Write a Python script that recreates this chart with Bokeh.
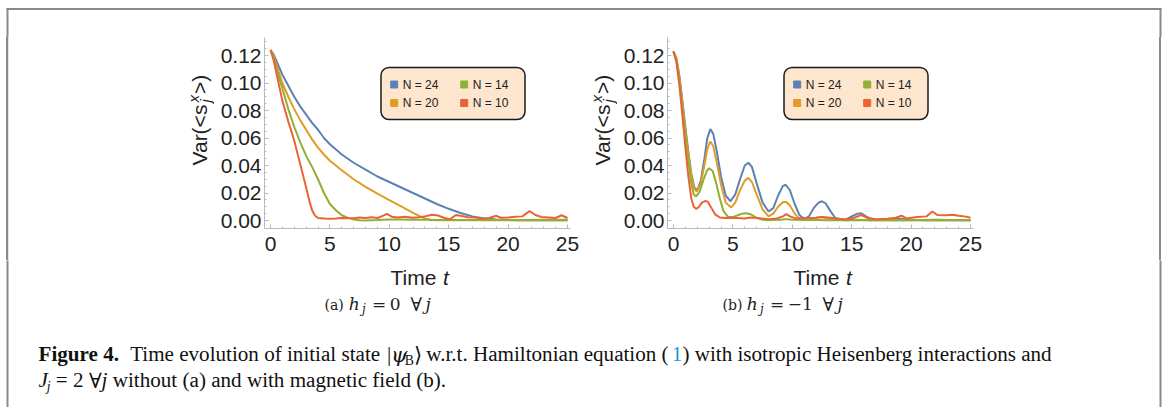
import math
from bokeh.plotting import figure
from bokeh.models import Range1d, FixedTicker, NumeralTickFormatter, Label, BoxAnnotation, Plot, Div
from bokeh.layouts import column, row
from bokeh.embed import file_html
from bokeh.resources import INLINE

# ---------------- data ----------------
series_names = ["N = 24", "N = 20", "N = 14", "N = 10"]
series_colors = ["#5E81B5", "#E19C24", "#8FB032", "#EB6235"]
x_ticks = [0, 5, 10, 15, 20, 25]
y_ticks = [0.0, 0.02, 0.04, 0.06, 0.08, 0.10, 0.12]

# panel (a): h_j = 0
a24_t = [0, 0.25, 0.5, 1, 1.5, 2, 2.5, 3, 3.5, 4, 4.5, 5, 6, 7, 8, 9, 10, 11, 12, 13, 14, 15, 16, 17, 18, 19, 20, 21, 22, 23, 24, 25]
a24_v = [0.124, 0.121, 0.116, 0.106, 0.098, 0.090, 0.083, 0.077, 0.071, 0.066, 0.060, 0.0555, 0.048, 0.042, 0.037, 0.032, 0.028, 0.024, 0.020, 0.016, 0.012, 0.0085, 0.0055, 0.003, 0.0015, 0.0008, 0.0004, 0.0002, 0.0001, 0.0001, 0.0001, 0.0001]
a20_t = [0, 0.25, 0.5, 1, 1.5, 2, 2.5, 3, 3.5, 4, 4.5, 5, 6, 7, 8, 9, 10, 11, 12, 12.5, 13, 13.5, 14, 15, 17, 19, 21, 23, 25]
a20_v = [0.124, 0.120, 0.113, 0.100, 0.090, 0.081, 0.073, 0.066, 0.059, 0.053, 0.048, 0.0435, 0.0365, 0.030, 0.0245, 0.0195, 0.0148, 0.0102, 0.0055, 0.0033, 0.0015, 0.0006, 0.0002, 0.0002, 0.0002, 0.0002, 0.0002, 0.0002, 0.0002]
a14_t = [0, 0.25, 0.5, 1, 1.5, 2, 2.5, 3, 3.5, 4, 4.5, 5, 5.5, 6, 6.5, 7, 7.5, 8, 9, 10, 11, 12, 13, 14, 15, 17, 19, 21, 23, 25]
a14_v = [0.124, 0.119, 0.110, 0.096, 0.081, 0.068, 0.057, 0.047, 0.039, 0.030, 0.020, 0.012, 0.0075, 0.0038, 0.002, 0.0008, 0.0002, 0.0, 0.0003, 0.0008, 0.0007, 0.0006, 0.0005, 0.0004, 0.0003, 0.0003, 0.0004, 0.0004, 0.0005, 0.0005]
a10_t = [0, 0.25, 0.5, 1, 1.5, 2, 2.5, 3, 3.25, 3.5, 3.75, 4, 4.5, 5, 5.5, 6, 6.5, 7, 7.5, 8, 8.5, 9, 9.5, 9.8, 10.2, 10.7, 11.3, 12, 12.5, 13, 13.6, 14.1, 14.6, 15.1, 15.6, 16.1, 16.6, 17.2, 17.8, 18.4, 19, 19.4, 20, 20.6, 21.2, 21.8, 22.3, 22.8, 23.4, 24, 24.5, 25]
a10_v = [0.124, 0.117, 0.107, 0.087, 0.072, 0.058, 0.041, 0.024, 0.015, 0.0075, 0.0035, 0.0018, 0.0015, 0.0013, 0.0014, 0.0019, 0.0016, 0.0017, 0.0022, 0.0018, 0.0024, 0.0018, 0.0035, 0.0048, 0.0028, 0.0022, 0.0028, 0.0020, 0.0024, 0.0030, 0.0042, 0.0036, 0.0020, 0.0008, 0.0040, 0.0032, 0.0024, 0.0022, 0.0012, 0.0018, 0.0034, 0.0020, 0.0022, 0.0028, 0.0030, 0.0068, 0.0040, 0.0026, 0.0022, 0.0018, 0.0038, 0.0018]

# panel (b): h_j = -1
b24_t = [0, 0.25, 0.5, 0.75, 1.0, 1.25, 1.5, 1.75, 2.0, 2.3, 2.6, 2.85, 3.1, 3.35, 3.65, 4.0, 4.4, 4.8, 5.2, 5.6, 6.0, 6.3, 6.6, 7.0, 7.5, 8.0, 8.4, 8.8, 9.2, 9.45, 9.8, 10.2, 10.6, 11.0, 11.4, 11.8, 12.2, 12.5, 12.8, 13.2, 13.6, 14.0, 14.5, 15.0, 15.5, 15.8, 16.2, 16.7, 17.2, 18, 19, 20, 21, 22, 23, 24, 25]
b24_v = [0.123, 0.118, 0.105, 0.087, 0.068, 0.050, 0.034, 0.024, 0.022, 0.029, 0.045, 0.060, 0.0665, 0.063, 0.050, 0.032, 0.018, 0.014, 0.019, 0.030, 0.040, 0.042, 0.039, 0.027, 0.013, 0.0065, 0.009, 0.018, 0.025, 0.026, 0.022, 0.012, 0.004, 0.0012, 0.003, 0.009, 0.013, 0.014, 0.0125, 0.007, 0.002, 0.0005, 0.0007, 0.003, 0.005, 0.0052, 0.003, 0.0008, 0.0003, 0.0005, 0.0012, 0.0005, 0.0002, 0.0004, 0.0002, 0.0002, 0.0002]
b20_t = [0, 0.25, 0.5, 0.75, 1.0, 1.25, 1.5, 1.75, 1.95, 2.3, 2.6, 2.85, 3.1, 3.35, 3.65, 4.0, 4.4, 4.85, 5.2, 5.6, 6.0, 6.3, 6.6, 7.0, 7.5, 8.0, 8.4, 8.8, 9.2, 9.45, 9.8, 10.2, 10.6, 11.0, 11.5, 12.0, 12.5, 13.0, 13.5, 14.5, 15.5, 16.5, 18, 20, 22, 25]
b20_v = [0.123, 0.117, 0.104, 0.085, 0.066, 0.048, 0.033, 0.023, 0.021, 0.027, 0.040, 0.052, 0.0575, 0.054, 0.042, 0.026, 0.013, 0.0095, 0.013, 0.022, 0.029, 0.031, 0.028, 0.019, 0.008, 0.003, 0.005, 0.010, 0.0132, 0.0136, 0.011, 0.005, 0.0012, 0.0005, 0.001, 0.002, 0.0025, 0.0015, 0.0005, 0.0002, 0.0006, 0.0002, 0.0002, 0.0002, 0.0003, 0.0002]
b14_t = [0, 0.25, 0.5, 0.75, 1.0, 1.25, 1.5, 1.7, 1.9, 2.2, 2.5, 2.8, 3.0, 3.3, 3.6, 3.9, 4.2, 4.6, 5.0, 5.4, 5.8, 6.1, 6.5, 7.0, 7.5, 8.0, 9.0, 9.5, 10.0, 11, 12, 13, 15, 17, 20, 22, 25]
b14_v = [0.123, 0.116, 0.102, 0.082, 0.062, 0.043, 0.027, 0.019, 0.0175, 0.021, 0.029, 0.036, 0.038, 0.036, 0.027, 0.016, 0.007, 0.0025, 0.0025, 0.0038, 0.005, 0.0053, 0.0045, 0.002, 0.0005, 0.0003, 0.0005, 0.001, 0.0006, 0.0003, 0.0004, 0.0002, 0.0003, 0.0002, 0.0002, 0.0006, 0.0002]
b10_t = [0, 0.25, 0.5, 0.75, 1.0, 1.25, 1.5, 1.7, 1.9, 2.1, 2.4, 2.7, 2.9, 3.2, 3.5, 3.9, 4.4, 5, 6, 6.5, 7, 8, 8.7, 9.2, 9.5, 9.8, 10.3, 11, 12, 12.5, 13, 14, 14.5, 15.2, 15.8, 16.3, 17, 18, 18.7, 19.2, 19.6, 20.5, 21.3, 21.8, 22.2, 23, 23.5, 24, 24.5, 25]
b10_v = [0.123, 0.115, 0.098, 0.076, 0.053, 0.032, 0.016, 0.010, 0.0085, 0.0095, 0.013, 0.0143, 0.0135, 0.009, 0.0045, 0.0022, 0.0018, 0.002, 0.0015, 0.0022, 0.0018, 0.001, 0.0015, 0.003, 0.0046, 0.003, 0.0015, 0.0018, 0.002, 0.0025, 0.0022, 0.0012, 0.0008, 0.002, 0.004, 0.002, 0.0009, 0.0012, 0.002, 0.0035, 0.0015, 0.0025, 0.003, 0.0065, 0.004, 0.0038, 0.0042, 0.0035, 0.003, 0.002]

panel_a = [(a24_t, a24_v), (a20_t, a20_v), (a14_t, a14_v), (a10_t, a10_v)]
panel_b = [(b24_t, b24_v), (b20_t, b20_v), (b14_t, b14_v), (b10_t, b10_v)]

# ---------------- layout constants (page pixels) ----------------
W, H = 1163, 407
ROW_TOP, ROW_BOT = 37, 260           # middle row (plots) spans these page rows
ROW_H = ROW_BOT - ROW_TOP
SX, SY = 11.88, 1375.0               # px per unit t, px per unit Var
FRAME_W, FRAME_H = 306, 191
X_LO, X_HI = -6 / SX, 300 / SX
Y_LO, Y_HI = -8 / SY, 183 / SY
AXIS_GRAY = "#b9b9b9"
TXT = "#222222"
BORDER = "#8a8a8a"
HAS_FRAME_ALIGN = "frame_align" in Plot.properties()

SANS = {' ': 278, 'V': 667, 'a': 556, 'r': 333, '(': 333, ')': 333, '<': 584, '>': 584, 's': 500,
        'T': 611, 'i': 222, 'm': 833, 'e': 556, 't': 278, 'j': 222, 'x': 500}
SERIF = {' ': 250, '!': 333, '(': 333, ')': 333, ',': 250, '-': 333, '.': 250, '/': 278, ':': 278, '=': 564, '|': 200,
         'A': 722, 'B': 667, 'C': 667, 'D': 722, 'E': 611, 'F': 556, 'G': 722, 'H': 722, 'I': 333, 'J': 389, 'K': 722,
         'L': 611, 'M': 889, 'N': 722, 'O': 722, 'P': 556, 'Q': 722, 'R': 667, 'S': 556, 'T': 611, 'U': 722, 'V': 722,
         'W': 944, 'X': 722, 'Y': 722, 'Z': 611, 'a': 444, 'b': 500, 'c': 444, 'd': 500, 'e': 444, 'f': 333, 'g': 500,
         'h': 500, 'i': 278, 'j': 278, 'k': 500, 'l': 278, 'm': 778, 'n': 500, 'o': 500, 'p': 500, 'q': 500, 'r': 333,
         's': 389, 't': 278, 'u': 500, 'v': 500, 'w': 722, 'x': 500, 'y': 500, 'z': 444, '\u2200': 600, '\u27e9': 330,
         '\u03c8': 650, '\u2212': 564}
for _d in "0123456789":
    SERIF[_d] = 500
BOLD = dict(SERIF, F=611, u=556, r=444)


def twidth(txt, table, size):
    return sum(table.get(c, 500) for c in txt) * size / 1000.0


def no_align(p):
    if HAS_FRAME_ALIGN:
        p.frame_align = False


def make_panel(width, border_left, series):
    p = figure(width=width, height=ROW_H, output_backend="svg", toolbar_location=None,
               x_range=Range1d(X_LO, X_HI), y_range=Range1d(Y_LO, Y_HI),
               min_border_left=border_left, min_border_right=width - border_left - FRAME_W,
               min_border_top=0, min_border_bottom=ROW_H - FRAME_H)
    no_align(p)
    p.outline_line_color = None
    p.grid.visible = False
    for ax in (p.xaxis[0], p.yaxis[0]):
        ax.axis_line_color = AXIS_GRAY
        ax.major_tick_line_color = AXIS_GRAY
        ax.minor_tick_line_color = AXIS_GRAY
        ax.major_tick_in = 4
        ax.major_tick_out = 0
        ax.minor_tick_in = 2
        ax.minor_tick_out = 0
        ax.major_label_text_font = "Liberation Sans"
        ax.major_label_text_font_size = "21px"
        ax.major_label_text_color = TXT
    p.xaxis.ticker = FixedTicker(ticks=x_ticks, minor_ticks=list(range(0, 26)))
    p.yaxis.ticker = FixedTicker(ticks=y_ticks, minor_ticks=[k * 0.005 for k in range(27)])
    p.yaxis.formatter = NumeralTickFormatter(format="0.00")
    p.xaxis.major_label_standoff = 8
    p.yaxis.major_label_standoff = 3
    for (t, v), c in zip(series, series_colors):
        p.line(t, v, line_color=c, line_width=2)
    # legend (drawn inside the frame; position from the legend's pixel layout)
    L, R, T, B = 110.5, 254.5, 67, 119
    p.add_layout(BoxAnnotation(left=L / SX, right=R / SX, top=(220 - T) / SY, bottom=(220 - B) / SY,
                               fill_color="#FDE5CE", fill_alpha=1.0, line_color="#1a1a1a", line_alpha=1.0,
                               line_width=1.5, border_radius=8, level="underlay"))
    for slot, si in enumerate([0, 2, 1, 3]):  # N=24, N=14 / N=20, N=10
        col, rw = slot % 2, slot // 2
        cx = 123.7 + 70 * col
        cy = 84 + 18.5 * rw
        p.scatter([cx / SX], [(220 - cy) / SY], marker="square", size=7,
                  fill_color=series_colors[si], line_color=series_colors[si])
        p.add_layout(Label(x=(cx + 8.5) / SX, y=(220 - cy) / SY, text=series_names[si],
                           text_font="Liberation Sans", text_font_size="12px", text_color=TXT,
                           text_align="left", text_baseline="middle"))
    return p


def deco(x0, y0, w, h, in_row=False):
    y_bot = y0 + h
    kw = {}
    if in_row and not HAS_FRAME_ALIGN:
        # frames get aligned with the panels: keep the same bottom border
        y_bot = y0 + FRAME_H
        kw = dict(min_border_bottom=h - FRAME_H)
    d = figure(width=w, height=h, output_backend="svg", toolbar_location=None,
               x_range=Range1d(x0, x0 + w), y_range=Range1d(y_bot, y0),
               x_axis_location=None, y_axis_location=None, min_border=0, **kw)
    no_align(d)
    d.outline_line_color = None
    d.grid.visible = False
    # page frame lines (left, right, top)
    for l, r, t, b in ((6, 8, 7.5, H), (1159, 1161, 7.5, H), (6, 1161, 7.5, 9.5)):
        d.add_layout(BoxAnnotation(left=l, right=r, top=t, bottom=b, fill_color=BORDER, fill_alpha=1,
                                   line_color=None))
    return d


def strip(w, color):
    # plain vertical strip of the page frame (html block, not a plot)
    return Div(text=f'<div style="width:{w}px;height:{ROW_H}px;background:{color};"></div>',
               width=w, height=ROW_H, margin=0)


def lab(fig, px, py, text, size, font="Liberation Sans", style="normal", color=TXT, angle=0.0):
    # (px, py): start of the text baseline in page pixels; text is anchored at its middle
    off = 0.34 * size
    if angle:
        px -= off
    else:
        py -= off
    fig.add_layout(Label(x=px, y=py, text=text, text_font=font, text_font_size=f"{size:.1f}px",
                         text_font_style=style, text_color=color, text_align="left",
                         text_baseline="middle", angle=angle))


# middle row: [gap][line][left deco][panel a][mid deco][panel b][right deco][line][gap]
fa = make_panel(366, 50, panel_a)      # page x 214..580, frame 264..570
fb = make_panel(371, 50, panel_b)      # page x 617..988, frame 667..973
top = deco(0, 0, W, ROW_TOP)
left = deco(8, ROW_TOP, 206, ROW_H, True)
mid = deco(580, ROW_TOP, 37, ROW_H, True)
right = deco(988, ROW_TOP, 171, ROW_H, True)
bottom = deco(0, ROW_BOT, W, H - ROW_BOT)

# y axis labels  Var(<s_j^x>)
for fig, dx in ((left, 0), (mid, 403)):
    bx, by = 206 + dx, 165
    lab(fig, bx, by, "Var(<s", 21, angle=math.pi / 2)
    by2 = by - twidth("Var(<s", SANS, 21) - 0.5
    lab(fig, bx + 4, by2, "j", 15, style="italic", angle=math.pi / 2)
    lab(fig, bx - 8, by2, "x", 15, style="italic", angle=math.pi / 2)
    by3 = by2 - twidth("x", SANS, 15) - 1
    lab(fig, bx, by3, ">)", 21, angle=math.pi / 2)

# x axis labels  Time t
for dx in (0, 403):
    tx = 390 + dx
    lab(bottom, tx, 284, "Time", 21)
    lab(bottom, tx + twidth("Time ", SANS, 21), 284, "t", 21, style="italic")

# sub-captions
SUB = 309.5
MF = "DejaVu Serif"
lab(bottom, 324, SUB, "(a)", 14, font=MF)
lab(bottom, 348.3, SUB, "h", 17, font=MF, style="italic")
lab(bottom, 361.5, SUB + 3.5, "j", 12, font=MF, style="italic")
lab(bottom, 371.5, SUB, "=", 17, font=MF)
lab(bottom, 389.3, SUB, "0", 17, font=MF)
lab(bottom, 410, SUB, "\u2200", 19, font=MF)
lab(bottom, 425, SUB, "j", 17, font=MF, style="italic")

lab(bottom, 722, SUB, "(b)", 14, font=MF)
lab(bottom, 746.3, SUB, "h", 17, font=MF, style="italic")
lab(bottom, 759.5, SUB + 3.5, "j", 12, font=MF, style="italic")
lab(bottom, 769.5, SUB, "=", 17, font=MF)
lab(bottom, 787.3, SUB, "\u22121", 17, font=MF)
lab(bottom, 822, SUB, "\u2200", 19, font=MF)
lab(bottom, 837, SUB, "j", 17, font=MF, style="italic")

# figure caption
CAP = 21.15


def rich(x, y, pieces):
    for txt, table, style, scale, dy, color, font in pieces:
        fs = CAP * scale
        lead = len(txt) - len(txt.lstrip(" "))
        x += lead * 250 * fs / 1000
        core = txt.strip(" ")
        lab(bottom, x, y + dy, core, fs, font=font, style=style, color=color)
        x += twidth(core, table, fs)
        trail = len(txt) - len(txt.rstrip(" "))
        x += trail * 250 * fs / 1000
    return x


CF = "Liberation Serif"
CK = "#111111"
rich(38, 361, [
    ("Figure 4.", BOLD, "bold", 1, 0, CK, CF),
    ("  Time evolution of initial state ", SERIF, "normal", 1, 0, CK, CF),
    ("|", SERIF, "normal", 1, 0, CK, CF),
    ("\u03c8", SERIF, "italic", 1, 0, CK, MF),
    ("B", SERIF, "normal", 0.65, 4, CK, CF),
    ("\u27e9 ", SERIF, "normal", 1, 0, CK, MF),
    ("w.r.t. Hamiltonian equation (", SERIF, "normal", 1, 0, CK, CF),
    ("1", SERIF, "normal", 1, 0, "#1f93d2", CF),
    (") with isotropic Heisenberg interactions and", SERIF, "normal", 1, 0, CK, CF),
])
rich(38, 387, [
    ("J", SERIF, "italic", 1, 0, CK, CF),
    ("j", SERIF, "italic", 0.65, 4, CK, CF),
    (" = 2 ", SERIF, "normal", 1, 0, CK, CF),
    ("\u2200", SERIF, "normal", 1, 0, CK, MF),
    ("j", SERIF, "italic", 1, 0, CK, CF),
    (" without (a) and with magnetic field (b).", SERIF, "normal", 1, 0, CK, CF),
])

middle = row(strip(6, "white"), strip(2, BORDER), left, fa, mid, fb, right, strip(2, BORDER), strip(2, "white"))
page = column(top, middle, bottom)
open("out.html", "w").write(file_html(page, INLINE))
